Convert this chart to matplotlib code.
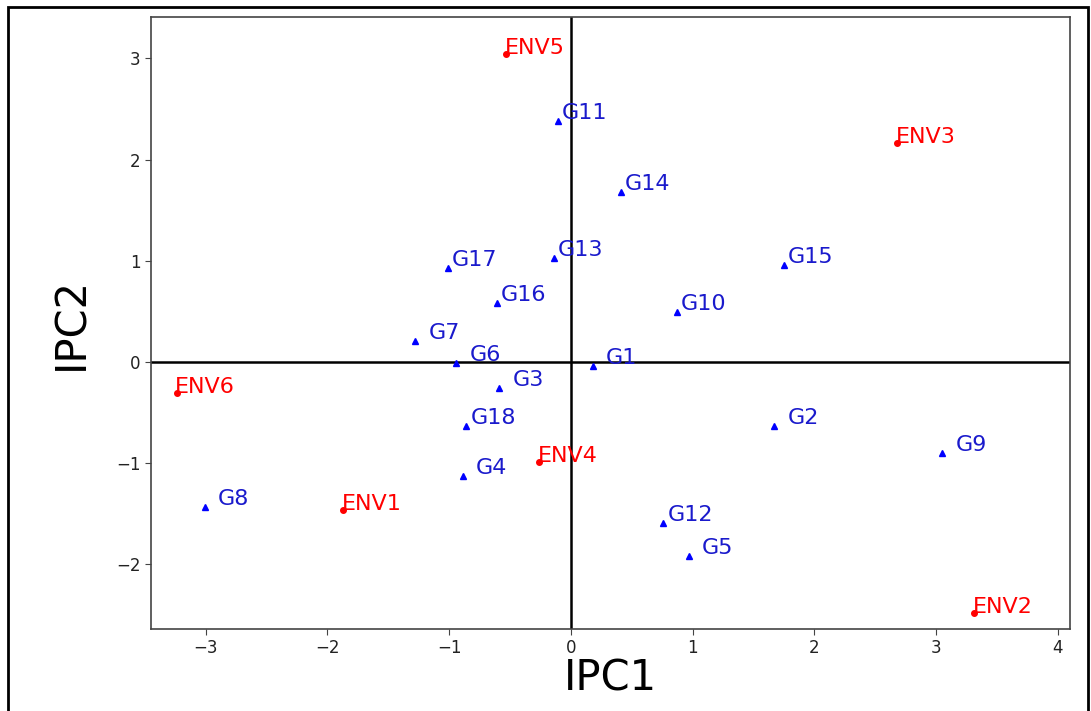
import matplotlib
matplotlib.use('Agg')
import matplotlib.pyplot as plt
from matplotlib.patches import Rectangle

# genotype scores (IPC1, IPC2)
gen_names = ['G1', 'G2', 'G3', 'G4', 'G5', 'G6', 'G7', 'G8', 'G9',
             'G10', 'G11', 'G12', 'G13', 'G14', 'G15', 'G16', 'G17', 'G18']
gen_ipc1 = [0.18, 1.67, -0.59, -0.89, 0.97, -0.94, -1.28, -3.01, 3.05,
            0.87, -0.11, 0.76, -0.14, 0.41, 1.75, -0.61, -1.01, -0.86]
gen_ipc2 = [-0.04, -0.63, -0.26, -1.13, -1.92, -0.01, 0.21, -1.43, -0.90,
            0.49, 2.38, -1.59, 1.03, 1.68, 0.96, 0.58, 0.93, -0.63]

# environment scores
env_names = ['ENV1', 'ENV2', 'ENV3', 'ENV4', 'ENV5', 'ENV6']
env_ipc1 = [-1.87, 3.31, 2.68, -0.26, -0.53, -3.24]
env_ipc2 = [-1.46, -2.48, 2.16, -0.99, 3.04, -0.31]

# these labels sit a bit further from their marker
wide_gap = ['G1', 'G2', 'G3', 'G4', 'G5', 'G6', 'G7', 'G8', 'G9']

fig = plt.figure(figsize=(10.91, 7.11), dpi=100)
ax = fig.add_axes([0.1384, 0.1153, 0.8423, 0.8608])

# outer frame of the figure box
fig.patches.append(Rectangle((8 / 1091, -0.05), 1080 / 1091, 1.05 - 7 / 711,
                             transform=fig.transFigure, fill=False,
                             edgecolor='black', linewidth=2))

ax.axhline(0, color='black', linewidth=1.8, zorder=1)
ax.axvline(0, color='black', linewidth=1.8, zorder=1)

ax.plot(gen_ipc1, gen_ipc2, '^', color='blue', markersize=4, linestyle='none')
ax.plot(env_ipc1, env_ipc2, 'o', color='red', markersize=4, linestyle='none')

for name, x, y in zip(gen_names, gen_ipc1, gen_ipc2):
    dx = 9.5 if name in wide_gap else 3
    ax.annotate(name, (x, y), xytext=(dx, 1.5), textcoords='offset points',
                color='#1a1acc', fontsize=16, va='baseline')

for name, x, y in zip(env_names, env_ipc1, env_ipc2):
    ax.annotate(name, (x, y), xytext=(-1, 0), textcoords='offset points',
                color='red', fontsize=16, va='baseline')

ax.set_xlim(-3.45, 4.1)
ax.set_ylim(-2.64, 3.41)
ax.set_xticks([-3, -2, -1, 0, 1, 2, 3, 4])
ax.set_yticks([-2, -1, 0, 1, 2, 3])
ax.tick_params(labelsize=12, labelcolor='#222222', length=4, color='#444444')
for s in ax.spines.values():
    s.set_color('#444444')
    s.set_linewidth(1.2)

ax.set_xlabel('IPC1', fontsize=30, labelpad=0)
ax.set_ylabel('IPC2', fontsize=30, labelpad=17)

plt.savefig('out.png', dpi=100)
